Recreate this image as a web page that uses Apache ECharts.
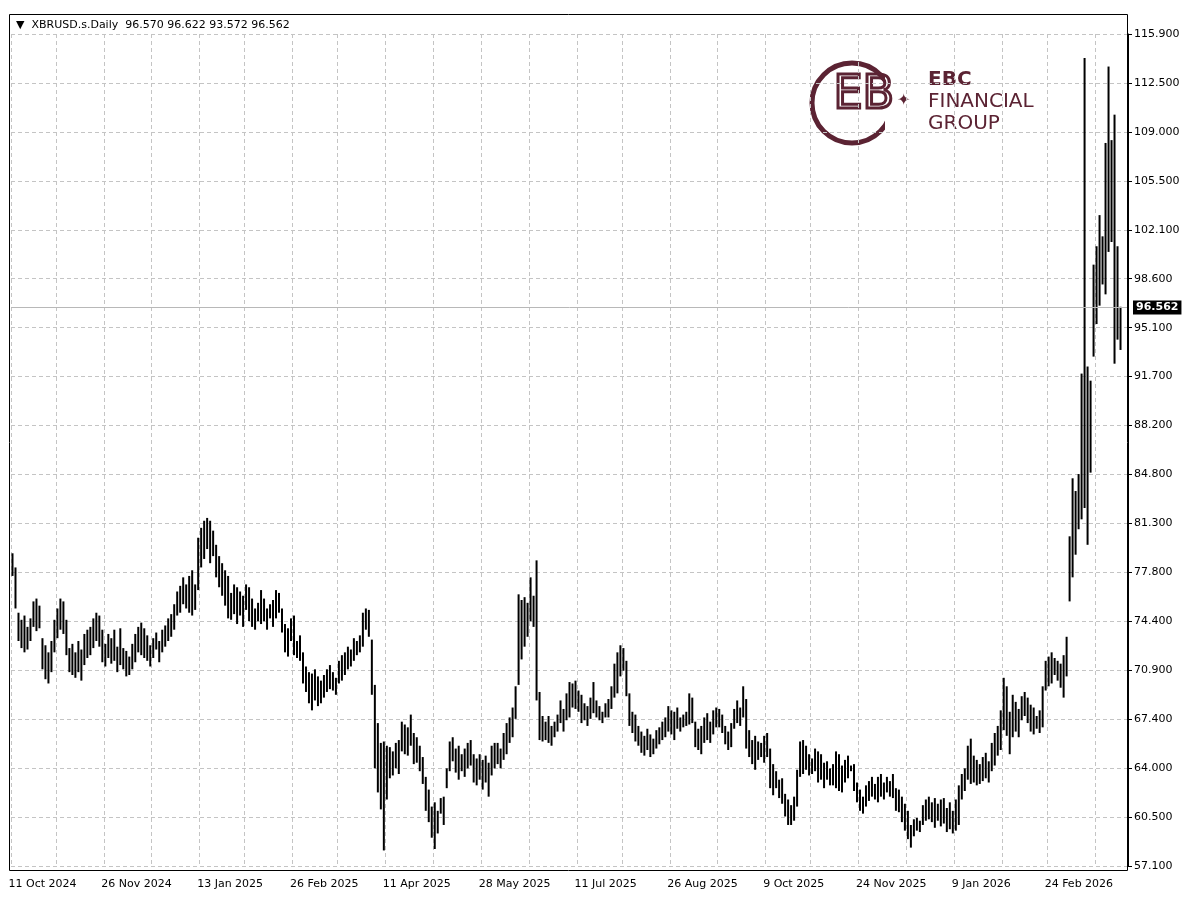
<!DOCTYPE html>
<html>
<head>
<meta charset="utf-8">
<script src="https://cdn.jsdelivr.net/npm/echarts@6/dist/echarts.min.js"></script>
<style>html,body{margin:0;padding:0;background:#fff}#chart{width:1200px;height:914px}</style>
</head>
<body>
<div id="chart"></div>
<script>
// daily bar highs / lows
const highs = [
79.2,78.2,75.0,74.5,74.8,74.0,74.6,75.8,76.0,75.5,73.2,72.7,72.2,73.0,74.5,75.3,76.0,75.8,74.5,72.5,
72.8,72.2,73.0,72.4,73.5,73.8,74.0,74.6,75.0,74.8,73.8,72.8,73.5,73.2,73.8,72.6,73.9,72.5,72.3,71.9,
72.8,73.5,74.0,74.3,73.9,73.4,72.7,73.2,73.6,73.0,73.8,74.1,74.6,74.9,75.6,76.5,76.9,77.5,77.0,77.6,
78.0,77.0,80.3,81.0,81.5,81.7,81.5,80.8,79.8,79.0,78.5,78.0,77.6,76.4,77.0,76.8,76.5,76.2,77.0,76.8,
76.0,75.3,75.7,76.6,76.0,75.3,75.6,75.9,76.6,76.4,75.3,74.2,73.9,74.6,74.8,73.0,73.4,72.2,71.2,70.8,
70.7,71.0,70.5,70.2,70.6,71.0,71.3,70.8,70.4,71.6,72.0,72.2,72.6,72.4,73.2,73.0,73.4,75.0,75.3,75.2,
73.1,69.9,67.2,65.8,65.9,65.6,65.5,65.2,65.8,66.0,67.3,67.1,66.9,67.8,66.5,66.2,65.6,64.8,63.4,62.5,
61.3,61.6,61.0,61.9,62.0,64.0,65.9,66.2,65.4,65.6,65.0,65.4,65.8,66.0,65.0,64.7,65.0,64.6,64.9,64.4,
65.6,65.8,65.8,65.4,66.5,67.2,67.6,68.3,69.8,76.3,75.9,76.1,75.7,77.5,76.2,78.7,69.4,67.7,67.3,67.7,
67.0,67.3,67.8,68.8,68.2,69.3,70.1,70.0,70.2,69.5,69.2,68.6,68.4,69.0,70.1,68.8,68.4,68.0,68.6,68.9,
69.8,71.4,72.2,72.7,72.5,71.6,69.3,68.0,67.8,67.0,66.6,66.3,66.8,66.4,66.1,66.7,66.9,67.3,67.6,68.4,
68.1,68.0,68.3,67.6,67.8,68.0,69.3,69.0,67.3,66.8,67.0,67.6,67.9,67.3,68.1,68.3,68.2,67.8,67.0,66.6,
67.2,68.2,68.8,68.3,69.8,68.9,66.7,66.0,66.3,65.9,65.8,66.3,66.5,65.4,64.3,63.8,63.2,63.3,62.2,61.8,
61.4,62.0,63.9,65.9,66.0,65.6,65.0,64.7,65.4,65.2,65.0,64.4,64.5,64.0,64.3,65.2,65.0,64.2,64.6,64.9,
64.2,64.3,63.0,62.5,62.0,62.8,63.1,63.4,62.9,63.4,63.6,63.0,63.4,63.1,63.6,62.6,62.5,62.0,61.5,61.0,
60.0,60.4,60.5,60.3,61.4,61.8,62.0,61.6,61.9,61.5,61.8,61.9,61.2,61.6,61.0,61.8,62.8,63.6,64.0,65.6,
66.1,64.9,64.6,64.3,64.8,65.1,64.5,65.8,66.5,67.0,68.1,70.4,69.8,68.0,69.2,68.7,68.2,69.1,69.4,69.0,
68.5,68.3,67.7,68.1,69.8,71.6,71.9,72.2,71.8,71.6,71.4,72.0,73.3,80.4,84.5,83.6,84.8,91.9,114.2,92.4,
91.4,99.6,100.9,103.1,101.6,108.2,113.6,108.4,110.2,100.9,96.622
];
const lows = [
77.6,75.3,73.0,72.5,72.2,72.4,73.0,74.0,73.7,73.9,71.0,70.3,70.0,70.8,72.2,73.2,73.8,73.5,72.0,70.8,
70.6,70.4,70.8,70.2,71.3,71.8,72.0,72.5,73.0,72.6,71.5,71.2,71.8,71.4,71.6,70.8,71.3,71.0,70.5,70.6,
71.0,71.5,72.2,72.0,71.8,71.6,71.2,71.8,72.4,71.5,72.2,72.6,73.0,73.3,73.8,74.8,75.0,75.6,75.3,75.0,
74.8,75.2,76.6,78.2,78.8,79.5,78.5,79.0,77.5,76.8,76.2,75.5,74.6,74.5,74.9,74.2,74.8,74.0,75.2,74.4,
74.0,73.8,74.4,74.2,74.4,73.8,74.6,74.0,74.6,75.0,73.6,72.2,71.9,73.0,72.0,71.8,71.6,70.0,69.4,68.6,
68.1,68.8,68.4,68.6,69.0,69.4,69.6,69.5,69.2,70.0,70.2,70.6,71.0,71.2,71.6,72.0,72.2,72.6,73.8,73.3,
69.2,64.0,62.3,61.1,58.2,61.8,63.3,63.5,64.0,63.6,65.2,65.0,64.9,65.6,64.3,64.4,63.8,62.9,61.0,60.2,
59.1,58.3,59.4,60.8,60.0,62.6,63.8,64.5,63.7,63.2,63.8,63.4,64.0,64.2,63.0,62.8,63.2,62.5,63.0,62.0,
63.5,64.0,64.3,64.0,64.6,65.0,65.8,66.2,67.5,69.9,71.7,72.6,73.3,74.4,74.0,68.8,66.0,65.9,66.0,65.8,
65.6,66.2,66.6,67.2,66.6,67.4,67.6,68.3,68.2,68.0,67.2,67.4,67.0,67.5,67.9,67.6,67.4,67.2,67.6,67.6,
68.2,69.0,69.3,70.5,70.9,69.1,67.0,66.5,65.9,65.6,65.1,64.9,65.3,64.8,65.0,65.4,65.7,66.0,66.2,66.6,
66.4,66.0,66.8,66.6,66.9,67.0,67.1,67.2,65.5,65.3,65.0,65.8,66.0,65.8,66.4,66.9,66.9,66.5,65.7,65.3,
65.5,66.8,67.2,67.0,67.6,65.4,64.8,64.3,63.9,64.6,64.8,64.4,64.8,62.6,62.1,62.6,61.9,61.5,60.6,60.0,
60.0,60.3,61.3,63.4,63.6,63.9,63.5,63.6,63.8,63.0,63.2,62.6,63.2,62.8,62.8,62.6,62.4,62.3,63.0,63.3,
63.8,62.4,61.6,61.0,60.8,61.3,61.7,62.0,61.8,61.6,62.0,61.8,62.3,62.0,61.9,61.0,60.9,60.2,59.6,59.0,
58.4,59.2,59.6,59.5,60.0,60.3,60.4,60.2,59.8,60.3,59.9,60.1,59.5,59.7,59.4,59.6,60.0,61.8,62.4,63.2,
62.9,63.0,62.8,62.9,63.1,63.3,63.0,63.8,64.2,64.9,65.3,66.7,66.3,65.0,66.2,66.6,66.2,67.4,67.7,67.2,
66.6,66.4,66.8,66.5,66.9,69.5,69.8,70.0,70.6,70.2,69.7,69.0,70.5,75.8,77.5,79.1,80.9,81.6,82.4,79.8,
84.9,93.1,95.4,96.7,98.2,97.5,100.5,101.2,92.6,94.3,93.572
];
// x-axis label text and the bar index it sits on
const dateLabels = ['11 Oct 2024','26 Nov 2024','13 Jan 2025','26 Feb 2025','11 Apr 2025','28 May 2025',
  '11 Jul 2025','26 Aug 2025','9 Oct 2025','24 Nov 2025','9 Jan 2026','24 Feb 2026'];
const dateLabelIdx = [0,31,63,94,125,157,189,220,252,283,315,346];
const gridIdx = [0,15,31,47,63,78,94,109,125,141,157,173,189,204,220,236,252,267,283,299,315,331,346,362];
const yTickLabels = ['57.100','60.500','64.000','67.400','70.900','74.400','77.800','81.300','84.800',
  '88.200','91.700','95.100','98.600','102.100','105.500','109.000','112.500','115.900'];
const yMin = 57.1, yStep = (115.9 - 57.1) / 17;
const lastPrice = 96.562;
const header = '▼  XBRUSD.s.Daily  96.570 96.622 93.572 96.562';

const N = highs.length + 2;
const cats = [];
for (let i = 0; i < N; i++) cats.push(String(i));
const toU = p => (p - yMin) / yStep;
const bars = highs.map((h, i) => [i, toU(h), toU(lows[i])]);
const gridSet = new Set(gridIdx);
const labelMap = {};
dateLabelIdx.forEach((k, j) => { labelMap[k] = dateLabels[j]; });

const chart = echarts.init(document.getElementById('chart'));
const wine = '#5b2333';
chart.setOption({
  animation: false,
  textStyle: { fontFamily: 'DejaVu Sans' },
  grid: { left: 11, right: 72, top: 34, bottom: 48 },
  xAxis: {
    type: 'category', data: cats, boundaryGap: true,
    axisLine: { show: false }, axisTick: { show: false },
    axisLabel: {
      interval: i => labelMap[i] !== undefined, formatter: (v, i) => labelMap[i] || '',
      color: '#000', fontSize: 11, align: 'left', margin: 13, padding: [0, 0, 0, -4]
    },
    splitLine: { show: true, interval: i => gridSet.has(i),
      lineStyle: { color: '#c4c4c4', type: [4, 3], width: 1 } }
  },
  yAxis: {
    type: 'value', position: 'right', min: 0, max: 17, interval: 1,
    axisLine: { show: true, lineStyle: { color: '#000' } },
    axisTick: { show: true, length: 4, lineStyle: { color: '#000' } },
    axisLabel: { formatter: v => yTickLabels[Math.round(v)], color: '#000', fontSize: 11, margin: 6 },
    splitLine: { show: true, lineStyle: { color: '#c4c4c4', type: [4, 3], width: 1 } }
  },
  series: [{
    type: 'custom',
    data: bars,
    encode: { x: 0, y: [1, 2] },
    renderItem: (params, api) => {
      const top = api.coord([api.value(0), api.value(1)]);
      const bot = api.coord([api.value(0), api.value(2)]);
      return { type: 'rect', shape: { x: top[0] - 1, y: top[1], width: 2, height: Math.max(1, bot[1] - top[1]) },
        style: { fill: '#000' } };
    },
    markLine: {
      silent: true, symbol: 'none', animation: false,
      lineStyle: { color: '#b8b8b8', type: 'solid', width: 1 },
      label: { show: true, position: 'end', formatter: lastPrice.toFixed(3), color: '#fff',
        backgroundColor: '#000', padding: [2, 3, 1, 3], fontSize: 11, fontWeight: 'bold', distance: 5 },
      data: [{ yAxis: toU(lastPrice) }]
    }
  }],
  graphic: [
    { type: 'rect', shape: { x: 9.5, y: 14.5, width: 1118, height: 856 },
      style: { fill: 'none', stroke: '#000', lineWidth: 1 }, z: 10 },
    { type: 'text', left: 16, top: 20, style: { text: header, fontSize: 11, fill: '#000', fontFamily: 'DejaVu Sans' } },
    { type: 'circle', shape: { cx: 852, cy: 103, r: 40 }, style: { fill: 'none', stroke: wine, lineWidth: 5 } },
    { type: 'rect', shape: { x: 885, y: 70, width: 12, height: 66 }, style: { fill: '#fff' } },
    { type: 'text', left: 832, top: 72, style: { text: 'EB', fontSize: 46, fill: 'none', stroke: wine, lineWidth: 3, fontFamily: 'DejaVu Sans' } },
    { type: 'text', left: 897, top: 93, style: { text: '✦', fontSize: 16, fill: wine } },
    { type: 'text', left: 928, top: 70, style: { text: 'EBC', fontSize: 20, fontWeight: 'bold', fill: wine, fontFamily: 'DejaVu Sans' } },
    { type: 'text', left: 928, top: 92, style: { text: 'FINANCIAL', fontSize: 20, fill: wine, fontFamily: 'DejaVu Sans' } },
    { type: 'text', left: 928, top: 114, style: { text: 'GROUP', fontSize: 20, fill: wine, fontFamily: 'DejaVu Sans' } }
  ]
});
</script>
</body>
</html>
